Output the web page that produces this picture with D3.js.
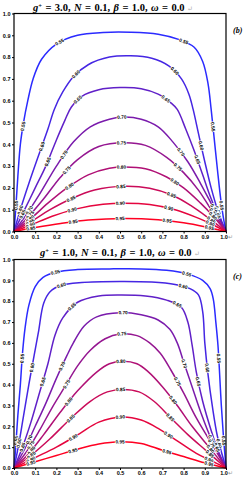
<!DOCTYPE html>
<html>
<head>
<meta charset="utf-8">
<script src="https://cdnjs.cloudflare.com/ajax/libs/d3/7.8.5/d3.min.js"></script>
<style>
body { margin: 0; background: #fff; }
svg { display: block; }
.tick text { font-family: "Liberation Sans", Arial, sans-serif; font-weight: bold; font-size: 5.5px; fill: #000; }
.clabel { font-family: "Liberation Sans", Arial, sans-serif; font-weight: bold; font-size: 4.8px; }
.title { font-family: "Liberation Serif", "DejaVu Serif", serif; font-weight: bold; font-size: 10.5px; word-spacing: 0.8px; }
.tag { font-family: "Liberation Serif", serif; font-weight: bold; font-style: italic; font-size: 8px; }
</style>
</head>
<body>
<script>
const W = 248, H = 480;

// contour levels (same for both panels)
const levels = [0.55, 0.60, 0.65, 0.70, 0.75, 0.80, 0.85, 0.90, 0.95];
const xTicks = [0, 0.1, 0.2, 0.3, 0.4, 0.5, 0.6, 0.7, 0.8, 0.9, 1.0];
const yTicks = [0, 0.1, 0.2, 0.3, 0.4, 0.5, 0.6, 0.7, 0.8, 0.9, 1.0];

// title parts: [text, style]
const titleB = [["g", "i"], ["+", "sup"], [" = 3.0, ", ""], ["N", "i"], [" = 0.1, ", ""], ["β", "i"], [" = 1.0, ", ""], ["ω", "i"], [" = 0.0", ""]];
const titleC = [["g", "i"], ["+", "sup"], [" = 1.0, ", ""], ["N", "i"], [" = 0.1, ", ""], ["β", "i"], [" = 1.0, ", ""], ["ω", "i"], [" = 0.0", ""]];

// contour lines, one list of [x, y] per level
const contoursB = [
  [[0,0],[0.008,0.1],[0.018,0.25],[0.03,0.4],[0.045,0.5],[0.065,0.6],[0.09,0.7],[0.13,0.79],[0.2,0.86],[0.3,0.9],[0.42,0.913],[0.55,0.914],[0.68,0.905],[0.78,0.88],[0.85,0.845],[0.89,0.78],[0.915,0.68],[0.93,0.56],[0.945,0.42],[0.96,0.28],[0.975,0.15],[0.99,0.05],[1,0]],
  [[0,0],[0.03,0.1],[0.07,0.22],[0.12,0.36],[0.16,0.47],[0.19,0.56],[0.23,0.64],[0.28,0.71],[0.35,0.765],[0.45,0.8],[0.55,0.806],[0.65,0.795],[0.73,0.76],[0.79,0.7],[0.825,0.63],[0.845,0.56],[0.87,0.45],[0.9,0.32],[0.93,0.2],[0.96,0.1],[1,0]],
  [[0,0],[0.05,0.1],[0.1,0.2],[0.15,0.3],[0.2,0.42],[0.24,0.51],[0.27,0.57],[0.32,0.62],[0.4,0.65],[0.5,0.66],[0.6,0.655],[0.68,0.63],[0.74,0.59],[0.77,0.56],[0.81,0.47],[0.85,0.37],[0.89,0.26],[0.93,0.15],[0.97,0.06],[1,0]],
  [[0,0],[0.06,0.08],[0.12,0.17],[0.2,0.3],[0.28,0.41],[0.36,0.48],[0.45,0.515],[0.52,0.525],[0.6,0.515],[0.68,0.48],[0.75,0.41],[0.82,0.32],[0.88,0.22],[0.94,0.11],[1,0]],
  [[0,0],[0.07,0.07],[0.14,0.15],[0.22,0.25],[0.3,0.33],[0.4,0.39],[0.52,0.407],[0.62,0.395],[0.72,0.34],[0.8,0.27],[0.87,0.19],[0.93,0.1],[1,0]],
  [[0,0],[0.08,0.06],[0.16,0.13],[0.25,0.2],[0.35,0.26],[0.45,0.29],[0.52,0.296],[0.62,0.288],[0.72,0.25],[0.8,0.2],[0.88,0.13],[0.94,0.07],[1,0]],
  [[0,0],[0.08,0.045],[0.17,0.1],[0.27,0.15],[0.38,0.19],[0.52,0.207],[0.64,0.198],[0.75,0.165],[0.84,0.115],[0.92,0.06],[1,0]],
  [[0,0],[0.08,0.03],[0.18,0.07],[0.3,0.105],[0.42,0.125],[0.52,0.13],[0.64,0.124],[0.76,0.1],[0.86,0.065],[0.94,0.03],[1,0]],
  [[0,0],[0.1,0.018],[0.22,0.037],[0.35,0.053],[0.52,0.06],[0.68,0.054],[0.8,0.04],[0.9,0.022],[1,0]]
];

// contour lines
const contoursC = [
  [[0,0],[0.008,0.1],[0.018,0.25],[0.03,0.4],[0.04,0.55],[0.052,0.67],[0.07,0.78],[0.1,0.87],[0.137,0.914],[0.2,0.94],[0.3,0.952],[0.45,0.955],[0.6,0.955],[0.72,0.948],[0.82,0.93],[0.89,0.9],[0.925,0.86],[0.94,0.81],[0.952,0.7],[0.962,0.59],[0.97,0.45],[0.978,0.3],[0.988,0.15],[1,0]],
  [[0,0],[0.02,0.1],[0.045,0.25],[0.07,0.4],[0.095,0.54],[0.115,0.65],[0.14,0.79],[0.17,0.845],[0.22,0.875],[0.32,0.89],[0.5,0.895],[0.65,0.892],[0.76,0.88],[0.83,0.86],[0.87,0.83],[0.89,0.75],[0.9,0.6],[0.915,0.45],[0.935,0.3],[0.96,0.15],[1,0]],
  [[0,0],[0.04,0.1],[0.08,0.22],[0.12,0.36],[0.16,0.5],[0.193,0.636],[0.23,0.72],[0.3,0.795],[0.4,0.825],[0.5,0.83],[0.62,0.825],[0.72,0.805],[0.79,0.77],[0.82,0.7],[0.84,0.59],[0.86,0.46],[0.89,0.32],[0.93,0.18],[0.96,0.09],[1,0]],
  [[0,0],[0.05,0.09],[0.1,0.2],[0.15,0.31],[0.2,0.43],[0.25,0.54],[0.28,0.6],[0.33,0.68],[0.39,0.725],[0.5,0.745],[0.6,0.735],[0.68,0.71],[0.735,0.665],[0.77,0.6],[0.8,0.51],[0.84,0.39],[0.88,0.27],[0.93,0.14],[1,0]],
  [[0,0],[0.06,0.08],[0.12,0.18],[0.18,0.29],[0.24,0.39],[0.3,0.49],[0.36,0.565],[0.43,0.62],[0.5,0.643],[0.58,0.635],[0.64,0.6],[0.69,0.55],[0.74,0.47],[0.8,0.36],[0.86,0.24],[0.93,0.12],[1,0]],
  [[0,0],[0.07,0.07],[0.14,0.16],[0.22,0.27],[0.3,0.37],[0.39,0.46],[0.45,0.5],[0.51,0.512],[0.58,0.5],[0.635,0.46],[0.7,0.39],[0.77,0.3],[0.84,0.2],[0.92,0.1],[1,0]],
  [[0,0],[0.08,0.06],[0.17,0.14],[0.27,0.24],[0.36,0.32],[0.44,0.365],[0.515,0.377],[0.59,0.365],[0.66,0.32],[0.74,0.24],[0.82,0.16],[0.91,0.08],[1,0]],
  [[0,0],[0.1,0.05],[0.2,0.1],[0.31,0.165],[0.4,0.22],[0.51,0.245],[0.6,0.23],[0.68,0.19],[0.77,0.13],[0.86,0.07],[0.93,0.035],[1,0]],
  [[0,0],[0.1,0.03],[0.2,0.06],[0.3,0.09],[0.4,0.115],[0.5,0.126],[0.6,0.118],[0.7,0.085],[0.8,0.055],[0.9,0.025],[1,0]]
];

const color = d3.scaleLinear()
  .domain([0.55, 0.95])
  .range(["#2b2bff", "#ff0022"])
  .interpolate(d3.interpolateRgb);

const svg = d3.select("body").append("svg")
  .attr("width", W)
  .attr("height", H);

function drawPanel(contours, title, tag, box, titleX, titleY) {
  const x = d3.scaleLinear().domain([0, 1]).range([box.left, box.right]);
  const y = d3.scaleLinear().domain([0, 1]).range([box.bottom, box.top]);
  const g = svg.append("g");

  // * CONTOURS
  const line = d3.line()
    .x((d) => x(d[0]))
    .y((d) => y(d[1]))
    .curve(d3.curveCatmullRom.alpha(0.5));

  const paths = g.selectAll("path.contour")
    .data(contours)
    .enter()
    .append("path")
    .attr("class", "contour")
    .attr("d", line)
    .attr("fill", "none")
    .attr("stroke", (d, i) => color(levels[i]))
    .attr("stroke-width", 1.5);

  // * CONTOUR LABELS
  paths.each(function (d, i) {
    const L = this.getTotalLength();
    const fracs = i < 3 ? [0.05, 0.2, 0.38, 0.62, 0.8, 0.95] : [0.08, 0.28, 0.5, 0.72, 0.92];
    fracs.forEach((f) => {
      const p = this.getPointAtLength(L * f);
      const p2 = this.getPointAtLength(Math.min(L, L * f + 1));
      const p1 = this.getPointAtLength(Math.max(0, L * f - 1));
      let ang = Math.atan2(p2.y - p1.y, p2.x - p1.x) * 180 / Math.PI;
      if (ang > 90) ang -= 180;
      if (ang < -90) ang += 180;
      const lg = g.append("g").attr("transform", `translate(${p.x},${p.y}) rotate(${ang})`);
      lg.append("rect")
        .attr("x", -5.2).attr("y", -2.4)
        .attr("width", 10.4).attr("height", 4.8)
        .attr("fill", "#fff");
      lg.append("text")
        .attr("class", "clabel")
        .attr("text-anchor", "middle")
        .attr("dy", "0.35em")
        .text(d3.format(".2f")(levels[i]));
    });
  });

  // * AXES
  const xAxis = d3.axisBottom(x).tickValues(xTicks).tickFormat(d3.format(".1f")).tickSize(2).tickSizeOuter(0).tickPadding(1.5);
  const yAxis = d3.axisLeft(y).tickValues(yTicks).tickFormat(d3.format(".1f")).tickSize(2).tickSizeOuter(0).tickPadding(1.5);
  const gx = g.append("g").attr("transform", `translate(0,${box.bottom})`).call(xAxis);
  const gy = g.append("g").attr("transform", `translate(${box.left},0)`).call(yAxis);
  gx.select(".domain").remove();
  gy.select(".domain").remove();
  gx.selectAll(".tick line").attr("stroke", "#000");
  gy.selectAll(".tick line").attr("stroke", "#000");
  gx.selectAll(".tick").filter((d) => d === 1)
    .select("text")
    .append("tspan")
    .attr("fill", "#999")
    .attr("font-weight", "normal")
    .text("↵");

  g.append("rect")
    .attr("x", box.left).attr("y", box.top)
    .attr("width", box.right - box.left)
    .attr("height", box.bottom - box.top)
    .attr("fill", "none")
    .attr("stroke", "#000")
    .attr("stroke-width", 1.2);

  // * TITLE
  const t = svg.append("text").attr("class", "title").attr("x", titleX).attr("y", titleY);
  title.forEach(([s, st]) => {
    const ts = t.append("tspan").text(s);
    if (st === "i") ts.attr("font-style", "italic");
    if (st === "sup") ts.attr("font-size", "6.5px").attr("baseline-shift", "super");
  });
  t.append("tspan").attr("fill", "#aaa").attr("font-weight", "normal").attr("font-size", "7px").text(" ↵");

  svg.append("text").attr("class", "tag").attr("x", 233).attr("y", box.top + 19).text(tag);
}

drawPanel(contoursB, titleB, "(b)", { left: 14, right: 226, top: 13.5, bottom: 231.5 }, 33, 11);
drawPanel(contoursC, titleC, "(c)", { left: 14, right: 226, top: 259.5, bottom: 468 }, 40, 256);
</script>
</body>
</html>
